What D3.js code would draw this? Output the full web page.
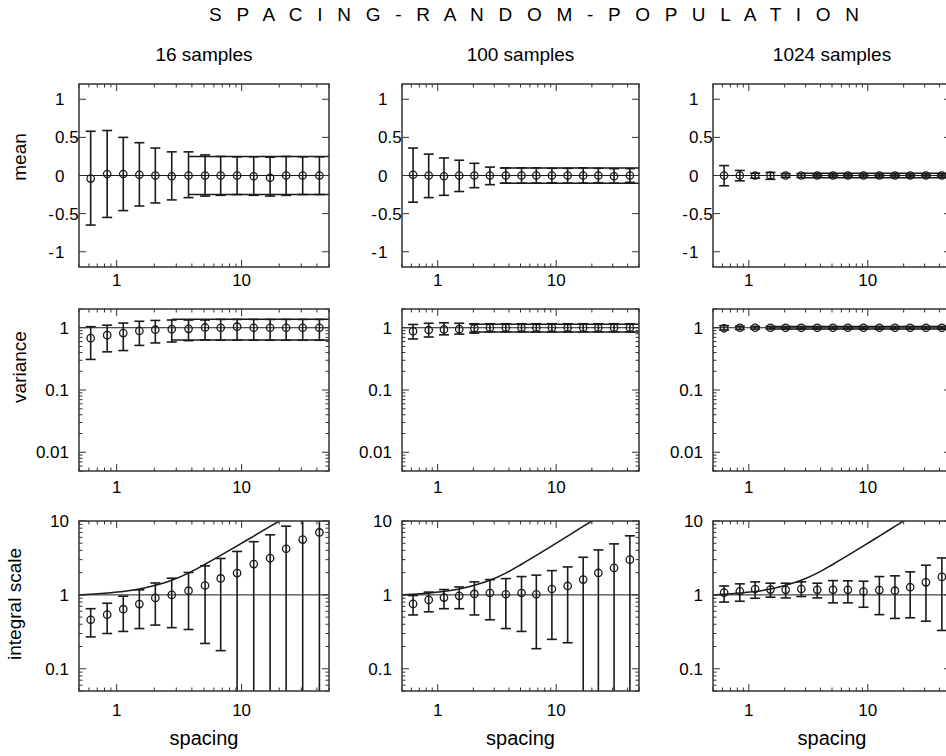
<!DOCTYPE html>
<html><head><meta charset="utf-8">
<script src="https://cdn.jsdelivr.net/npm/d3@7"></script>
<style>
body{margin:0;background:#fff;overflow:hidden}
svg{display:block}
text{font-family:"Liberation Sans",Arial,Helvetica,sans-serif;fill:#000}
</style>
</head><body>
<svg id="c" width="946" height="756"></svg>
<script>
// ---------- data ----------
const title = "S P A C I N G - R A N D O M - P O P U L A T I O N";
const colTitles = ["16 samples", "100 samples", "1024 samples"];
const rowLabels = ["mean", "variance", "integral scale"];
const xLabel = "spacing";
const xTicks = [1, 10];
const meanTicks = [-1, -0.5, 0, 0.5, 1];
const varTicks = [0.01, 0.1, 1];
const intTicks = [0.1, 1, 10];

const spacing = [0.62, 0.84, 1.13, 1.52, 2.04, 2.76, 3.76, 5.1, 6.8, 9.2, 12.5, 16.9, 22.7, 30.8, 41.9];

// mean
const mean16   = [-0.04, 0.02, 0.02, 0.01, 0, -0.01, 0, 0, 0, 0, -0.01, -0.03, 0, 0, 0];
const mean16Hi = [0.58, 0.59, 0.50, 0.43, 0.36, 0.31, 0.31, 0.27, 0.25, 0.245, 0.245, 0.24, 0.25, 0.245, 0.245];
const mean16Lo = [-0.65, -0.55, -0.46, -0.40, -0.36, -0.32, -0.29, -0.27, -0.26, -0.25, -0.26, -0.27, -0.26, -0.25, -0.25];
const mean100   = [0.01, 0, -0.01, 0, 0, 0, 0, 0, 0, 0, 0, 0, 0, -0.01, 0];
const mean100Hi = [0.36, 0.28, 0.23, 0.20, 0.16, 0.11, 0.10, 0.10, 0.10, 0.095, 0.095, 0.10, 0.095, 0.09, 0.09];
const mean100Lo = [-0.35, -0.29, -0.26, -0.21, -0.16, -0.12, -0.10, -0.10, -0.10, -0.095, -0.10, -0.10, -0.095, -0.10, -0.09];
const mean1024   = [0, 0, 0, 0, 0, 0, 0, 0, 0, 0, 0, 0, 0, 0, 0];
const mean1024Hi = [0.13, 0.066, 0.03, 0.04, 0.025, 0.025, 0.02, 0.02, 0.02, 0.02, 0.02, 0.02, 0.02, 0.02, 0.02];
const mean1024Lo = [-0.135, -0.07, -0.035, -0.05, -0.025, -0.025, -0.02, -0.02, -0.02, -0.02, -0.02, -0.02, -0.02, -0.02, -0.02];
const meanBand = [0.25, 0.1, 0.031];
const meanBandStart = [3.76, 3.34, 2.84];

// variance
const var16   = [0.68, 0.76, 0.82, 0.89, 0.93, 0.95, 0.96, 1.01, 1.0, 1.04, 1.0, 1.0, 1.0, 1.0, 1.0];
const var16Hi = [1.04, 1.10, 1.19, 1.27, 1.31, 1.33, 1.33, 1.33, 1.36, 1.36, 1.36, 1.36, 1.36, 1.36, 1.36];
const var16Lo = [0.31, 0.41, 0.43, 0.52, 0.57, 0.59, 0.62, 0.64, 0.63, 0.63, 0.63, 0.63, 0.63, 0.63, 0.63];
const var100   = [0.88, 0.92, 0.94, 0.95, 0.98, 1, 1, 1, 1, 1, 1, 1, 1, 1, 1];
const var100Hi = [1.13, 1.18, 1.20, 1.18, 1.16, 1.16, 1.16, 1.16, 1.16, 1.16, 1.16, 1.16, 1.16, 1.16, 1.16];
const var100Lo = [0.66, 0.71, 0.77, 0.79, 0.82, 0.86, 0.86, 0.86, 0.86, 0.86, 0.86, 0.86, 0.86, 0.86, 0.86];
const var1024   = [0.98, 1, 1, 1, 1, 1, 1, 1, 1, 1, 1, 1, 1, 1, 1];
const var1024Hi = [1.08, 1.06, 1.05, 1.05, 1.045, 1.045, 1.045, 1.045, 1.045, 1.045, 1.045, 1.045, 1.045, 1.045, 1.045];
const var1024Lo = [0.92, 0.94, 0.95, 0.955, 0.955, 0.955, 0.955, 0.955, 0.955, 0.955, 0.955, 0.955, 0.955, 0.955, 0.955];
const varBandHi = [1.365, 1.142, 1.044];
const varBandLo = [0.635, 0.858, 0.956];
const varBandStart = [2.76, 1.85, 1.5];

// integral scale
const int16   = [0.46, 0.54, 0.64, 0.75, 0.91, 1.0, 1.14, 1.34, 1.67, 1.97, 2.61, 3.14, 4.21, 5.6, 7.0];
const int16Hi = [0.65, 0.77, 0.96, 1.17, 1.45, 1.68, 2.01, 2.47, 3.11, 3.87, 5.25, 6.5, 8.5, 11.5, 14];
const int16Lo = [0.27, 0.30, 0.32, 0.35, 0.39, 0.36, 0.34, 0.22, 0.176, 0.01, 0.01, 0.01, 0.01, 0.01, 0.01];
const int100   = [0.755, 0.855, 0.92, 0.97, 1.03, 1.06, 1.02, 1.06, 1.02, 1.2, 1.32, 1.61, 1.98, 2.32, 3.0];
const int100Hi = [0.98, 1.09, 1.18, 1.28, 1.5, 1.61, 1.66, 1.77, 1.85, 2.13, 2.39, 3.23, 4.06, 4.9, 6.3];
const int100Lo = [0.535, 0.59, 0.65, 0.65, 0.535, 0.46, 0.35, 0.32, 0.187, 0.25, 0.225, 0.01, 0.01, 0.01, 0.01];
const int1024   = [1.075, 1.12, 1.2, 1.18, 1.17, 1.2, 1.17, 1.17, 1.17, 1.11, 1.16, 1.14, 1.27, 1.48, 1.75];
const int1024Hi = [1.32, 1.41, 1.5, 1.44, 1.44, 1.5, 1.44, 1.56, 1.55, 1.53, 1.77, 1.81, 2.05, 2.52, 3.16];
const int1024Lo = [0.80, 0.82, 0.90, 0.93, 0.91, 0.95, 0.91, 0.78, 0.78, 0.68, 0.54, 0.48, 0.49, 0.44, 0.33];
const theoryX = [0.5, 0.62, 0.84, 1.13, 1.52, 2.04, 2.76, 3.76, 5.1, 6.8, 9.2, 12.5, 16.9, 22.7];
const theoryY = [1.0, 1.02, 1.06, 1.11, 1.2, 1.35, 1.58, 1.97, 2.6, 3.42, 4.6, 6.25, 8.45, 11.35];

// ---------- layout ----------
const svg = d3.select("#c");
const cols = [{x: 79, w: 250}, {x: 402, w: 237}, {x: 713, w: 238}];
const rows = [
  {y: 84, h: 183, kind: "lin", domain: [-1.2, 1.2], ticks: meanTicks, labelY: 157, labelX: 26, tickDy: 19},
  {y: 309, h: 162, kind: "log", domain: [0.005, 2], ticks: varTicks, labelY: 367, labelX: 26, tickDy: 22},
  {y: 521, h: 170, kind: "log", domain: [0.05, 10], ticks: intTicks, labelY: 604, labelX: 21, tickDy: 25}
];
const panelData = [
  [[mean16, mean16Lo, mean16Hi], [mean100, mean100Lo, mean100Hi], [mean1024, mean1024Lo, mean1024Hi]],
  [[var16, var16Lo, var16Hi], [var100, var100Lo, var100Hi], [var1024, var1024Lo, var1024Hi]],
  [[int16, int16Lo, int16Hi], [int100, int100Lo, int100Hi], [int1024, int1024Lo, int1024Hi]]
];
const ink = "#1a1a1a";
const frameCol = "#333";
const tickFont = "17px";
const labelFont = "19px";

svg.append("text").attr("x", 534).attr("y", 21).attr("text-anchor", "middle")
  .attr("textLength", 650).attr("lengthAdjust", "spacing")
  .style("font-size", "19px").text(title);

cols.forEach((c, ci) => {
  svg.append("text").attr("x", c.x + c.w / 2).attr("y", 61).attr("text-anchor", "middle")
    .style("font-size", labelFont).text(colTitles[ci]);
});
rows.forEach((r, ri) => {
  svg.append("text").attr("transform", `translate(${r.labelX},${r.labelY}) rotate(-90)`)
    .attr("text-anchor", "middle").style("font-size", labelFont).text(rowLabels[ri]);
});

rows.forEach((r, ri) => {
  cols.forEach((c, ci) => {
    const x = d3.scaleLog().domain([0.5, 50]).range([c.x, c.x + c.w]);
    const y = (r.kind === "lin" ? d3.scaleLinear() : d3.scaleLog()).domain(r.domain).range([r.y + r.h, r.y]);
    const id = `clip${ri}${ci}`;
    svg.append("clipPath").attr("id", id).append("rect")
      .attr("x", c.x).attr("y", r.y).attr("width", c.w).attr("height", r.h);
    const g = svg.append("g").attr("clip-path", `url(#${id})`);

    // reference line
    const refV = r.kind === "lin" ? 0 : 1;
    g.append("line").attr("x1", x(0.5)).attr("x2", x(50)).attr("y1", y(refV)).attr("y2", y(refV))
      .attr("stroke", ink).attr("stroke-width", 1);

    // bands / theory curve
    if (ri === 0) {
      [meanBand[ci], -meanBand[ci]].forEach(v => {
        g.append("line").attr("x1", x(meanBandStart[ci])).attr("x2", x(50))
          .attr("y1", y(v)).attr("y2", y(v)).attr("stroke", ink).attr("stroke-width", 1.5);
      });
    } else if (ri === 1) {
      [varBandHi[ci], varBandLo[ci]].forEach(v => {
        g.append("line").attr("x1", x(varBandStart[ci])).attr("x2", x(50))
          .attr("y1", y(v)).attr("y2", y(v)).attr("stroke", ink).attr("stroke-width", 1.5);
      });
    } else {
      const pts = theoryX.map((v, i) => [x(v), y(theoryY[i])]);
      g.append("path").attr("d", d3.line().curve(d3.curveMonotoneX)(pts))
        .attr("fill", "none").attr("stroke", ink).attr("stroke-width", 1.6);
    }

    // error bars + markers
    const [ctr, lo, hi] = panelData[ri][ci];
    const cap = 5;
    spacing.forEach((s, i) => {
      const px = x(s);
      g.append("line").attr("x1", px).attr("x2", px).attr("y1", y(lo[i])).attr("y2", y(hi[i]))
        .attr("stroke", ink).attr("stroke-width", 1.6);
      [lo[i], hi[i]].forEach(v => {
        g.append("line").attr("x1", px - cap).attr("x2", px + cap).attr("y1", y(v)).attr("y2", y(v))
          .attr("stroke", ink).attr("stroke-width", 1.6);
      });
      g.append("circle").attr("cx", px).attr("cy", y(ctr[i])).attr("r", 3.7)
        .attr("fill", "none").attr("stroke", ink).attr("stroke-width", 1.3);
    });

    // ticks (inward, all four sides)
    const tk = svg.append("g").attr("stroke", frameCol).attr("stroke-width", 1);
    x.ticks().forEach(t => {
      const major = Math.abs(Math.log10(t) - Math.round(Math.log10(t))) < 1e-9;
      const L = major ? 7 : 3.5;
      const px = x(t);
      tk.append("line").attr("x1", px).attr("x2", px).attr("y1", r.y + r.h).attr("y2", r.y + r.h - L);
      tk.append("line").attr("x1", px).attr("x2", px).attr("y1", r.y).attr("y2", r.y + L);
    });
    const yt = r.kind === "lin" ? r.ticks.map(v => ({v, major: true}))
      : y.ticks().map(v => ({v, major: Math.abs(Math.log10(v) - Math.round(Math.log10(v))) < 1e-9}));
    yt.forEach(({v, major}) => {
      const L = major ? 7 : 3.5;
      const py = y(v);
      tk.append("line").attr("x1", c.x).attr("x2", c.x + L).attr("y1", py).attr("y2", py);
      tk.append("line").attr("x1", c.x + c.w).attr("x2", c.x + c.w - L).attr("y1", py).attr("y2", py);
    });

    // frame
    svg.append("rect").attr("x", c.x).attr("y", r.y).attr("width", c.w).attr("height", r.h)
      .attr("fill", "none").attr("stroke", frameCol).attr("stroke-width", 1.5);

    // tick labels
    xTicks.forEach(t => {
      svg.append("text").attr("x", x(t)).attr("y", r.y + r.h + r.tickDy).attr("text-anchor", "middle")
        .style("font-size", tickFont).text(String(t));
    });
    r.ticks.forEach(t => {
      const py = y(t) + 6;
      if (r.kind === "lin") {
        const s = String(Math.abs(t));
        svg.append("text").attr("x", c.x - 24).attr("y", py).attr("text-anchor", "start")
          .style("font-size", tickFont).text(s);
        if (t < 0) svg.append("text").attr("x", c.x - 25).attr("y", py).attr("text-anchor", "end")
          .style("font-size", tickFont).text("-");
      } else {
        svg.append("text").attr("x", c.x - 10).attr("y", py).attr("text-anchor", "end")
          .style("font-size", tickFont).text(String(t));
      }
    });

    if (ri === 2) {
      svg.append("text").attr("x", c.x + c.w / 2).attr("y", 745).attr("text-anchor", "middle")
        .style("font-size", "20px").text(xLabel);
    }
  });
});
</script>
</body></html>
